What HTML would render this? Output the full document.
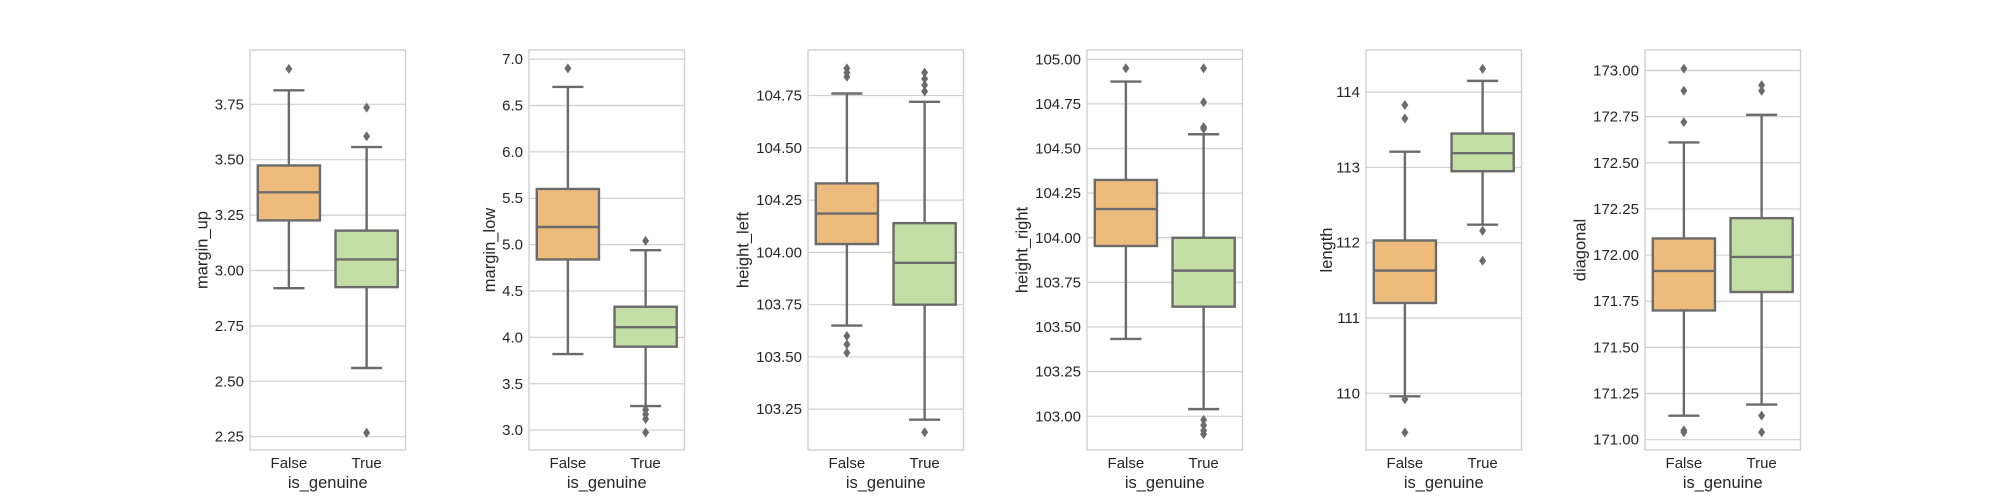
<!DOCTYPE html>
<html><head><meta charset="utf-8"><style>
html,body{margin:0;padding:0;background:#fff;}
svg{display:block;font-family:"Liberation Sans",Arial,sans-serif;}
</style></head><body>
<svg id="fig" width="2000" height="500" viewBox="0 0 2000 500" xmlns="http://www.w3.org/2000/svg"></svg>
<script>
// Data per panel
const varNames = ["margin_up","margin_low","height_left","height_right","length","diagonal"];
const categories = ["False","True"];
// [lowerWhisker, q1, median, q3, upperWhisker]
const statsFalse = [
  [2.92,3.226,3.353,3.474,3.813],
  [3.82,4.84,5.19,5.60,6.70],
  [103.65,104.04,104.186,104.33,104.76],
  [103.433,103.954,104.161,104.324,104.875],
  [109.96,111.20,111.63,112.03,113.21],
  [171.13,171.70,171.914,172.09,172.61]
];
const statsTrue = [
  [2.56,2.925,3.05,3.18,3.557],
  [3.26,3.90,4.11,4.33,4.94],
  [103.20,103.75,103.95,104.14,104.72],
  [103.04,103.614,103.816,104.00,104.58],
  [112.24,112.95,113.19,113.45,114.15],
  [171.19,171.80,171.99,172.20,172.76]
];
const outliersFalse = [
  [3.91],
  [6.90],
  [104.88,104.86,104.84,103.60,103.56,103.52],
  [104.95],
  [113.83,113.65,109.92,109.48],
  [173.01,172.89,172.72,171.05,171.04]
];
const outliersTrue = [
  [3.735,3.606,2.268],
  [5.04,3.22,3.17,3.12,2.975],
  [104.86,104.83,104.80,104.77,103.14],
  [104.95,104.76,104.62,104.61,102.98,102.95,102.92,102.90],
  [114.31,112.16,111.76],
  [172.92,172.89,171.13,171.04]
];
const tickValues = [
  [2.25,2.50,2.75,3.00,3.25,3.50,3.75],
  [3.0,3.5,4.0,4.5,5.0,5.5,6.0,6.5,7.0],
  [103.25,103.50,103.75,104.00,104.25,104.50,104.75],
  [103.00,103.25,103.50,103.75,104.00,104.25,104.50,104.75,105.00],
  [110,111,112,113,114],
  [171.00,171.25,171.50,171.75,172.00,172.25,172.50,172.75,173.00]
];
const tickDecimals = [2,1,2,2,0,2];
const domTop = [3.995,7.098,104.968,105.052,114.56,173.111];
const domBot = [2.190,2.786,103.055,102.811,109.247,170.944];

const NS="http://www.w3.org/2000/svg";
const svg=document.getElementById('fig');
function el(tag,attrs,parent){const e=document.createElementNS(NS,tag);for(const k in attrs)e.setAttribute(k,attrs[k]);(parent||svg).appendChild(e);return e;}
const lefts=[250,529,808,1087,1366,1645];
const W=155.5, TOP=50, BOT=450;
const fills=["#edbc7d","#c3dfa5"];
const LC="#6b6b6b";

for(let p=0;p<6;p++){
  const L=lefts[p];
  const y=v=>TOP+(domTop[p]-v)/(domTop[p]-domBot[p])*(BOT-TOP);
  const x=i=>L+W*(0.25+0.5*i);
  const g=el('g',{});
  
  
  tickValues[p].forEach(v=>{
    const gl=el('line',{x1:L,x2:L+W,y1:y(v),y2:y(v),stroke:'#d0d0d0','stroke-width':1.2},g);
    
    
    const t=el('text',{x:L-6,y:y(v)+5,'text-anchor':'end','font-size':15,fill:'#262626'},g);
    
    
    t.textContent=v.toFixed(tickDecimals[p]);
  });
  const fr=el('rect',{x:L,y:TOP,width:W,height:BOT-TOP,fill:'none',stroke:'#cccccc','stroke-width':1.3},g);
  
  
  const stats=[statsFalse[p],statsTrue[p]];
  const outs=[outliersFalse[p],outliersTrue[p]];
  for(let i=0;i<2;i++){
    const s=stats[i], cx=x(i), bw=W*0.4;
    const bg=el('g',{},g);
    
    
    el('line',{x1:cx,x2:cx,y1:y(s[0]),y2:y(s[1]),stroke:LC,'stroke-width':2.4},bg);
    el('line',{x1:cx,x2:cx,y1:y(s[3]),y2:y(s[4]),stroke:LC,'stroke-width':2.4},bg);
    el('line',{x1:cx-W*0.1,x2:cx+W*0.1,y1:y(s[0]),y2:y(s[0]),stroke:LC,'stroke-width':2.4},bg);
    el('line',{x1:cx-W*0.1,x2:cx+W*0.1,y1:y(s[4]),y2:y(s[4]),stroke:LC,'stroke-width':2.4},bg);
    el('rect',{x:cx-bw/2,y:y(s[3]),width:bw,height:y(s[1])-y(s[3]),fill:fills[i],stroke:LC,'stroke-width':2.4},bg);
    el('line',{x1:cx-bw/2,x2:cx+bw/2,y1:y(s[2]),y2:y(s[2]),stroke:LC,'stroke-width':2.4},bg);
    outs[i].forEach(v=>{
      const yy=y(v);
      const d=el('polygon',{points:`${cx},${yy-5} ${cx+3.5},${yy} ${cx},${yy+5} ${cx-3.5},${yy}`,fill:LC},bg);
      
      
    });
    const xt=el('text',{x:cx,y:468,'text-anchor':'middle','font-size':15,fill:'#262626'},g);
    
    
    xt.textContent=categories[i];
  }
  const xl=el('text',{x:L+W/2,y:488,'text-anchor':'middle','font-size':16.5,fill:'#262626'},g);
  
  
  xl.textContent='is_genuine';
  const maxLen=Math.max(...tickValues[p].map(v=>v.toFixed(tickDecimals[p]).length));
  const lx=L-6-maxLen*8.4-3;
  const yl=el('text',{x:lx,y:250,'text-anchor':'middle','font-size':16.5,fill:'#262626',transform:`rotate(-90 ${lx} 250)`},g);
  
  
  yl.textContent=varNames[p];
}
</script>
</body></html>
